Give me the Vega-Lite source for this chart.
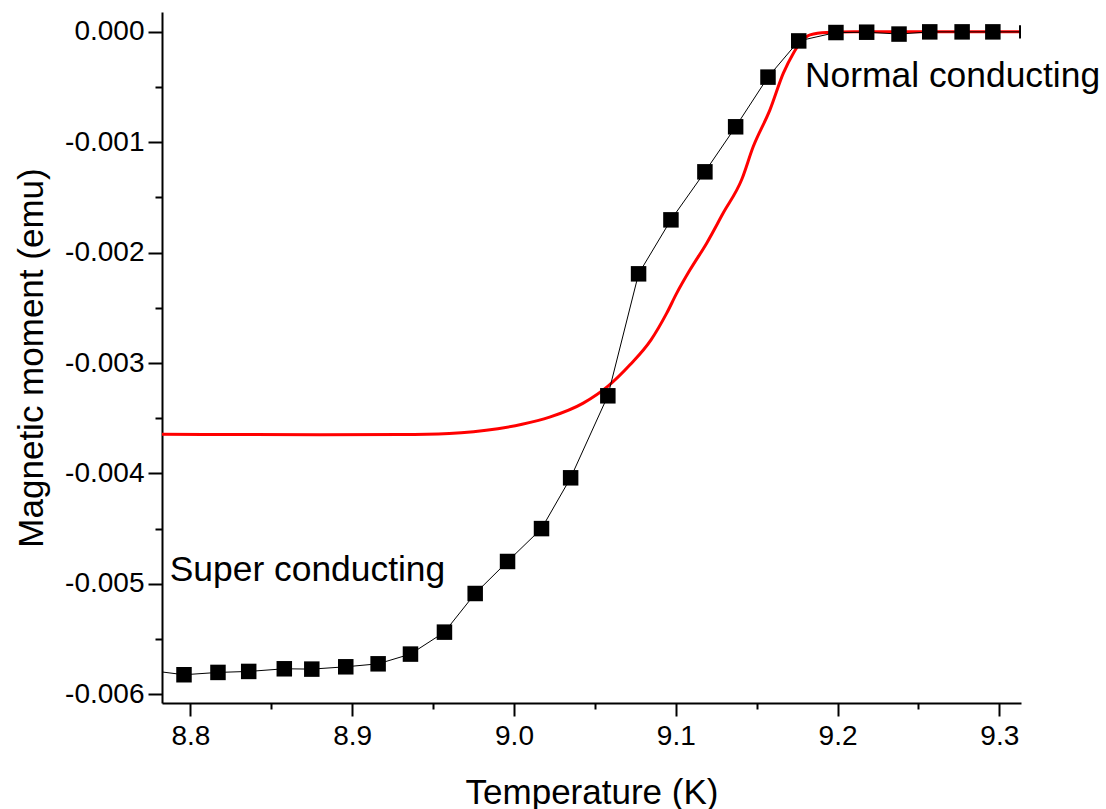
{
  "$schema": "https://vega.github.io/schema/vega-lite/v6.json",
  "width": 859,
  "height": 691,
  "autosize": {"type": "none"},
  "padding": {"left": 162, "top": 12, "right": 85, "bottom": 106},
  "background": "white",
  "config": {
    "view": {"stroke": null},
    "axis": {
      "domainColor": "#000000",
      "domainWidth": 2,
      "tickColor": "#000000",
      "tickWidth": 2,
      "labelColor": "#000000",
      "labelFont": "Liberation Sans",
      "labelFontSize": 28,
      "titleFont": "Liberation Sans",
      "titleFontSize": 35,
      "titleFontWeight": "normal",
      "titleColor": "#000000",
      "grid": false,
      "labelOverlap": false,
      "labelFlush": false
    }
  },
  "datasets": {
    "squares": [
      {"T": 8.796, "M": -0.005824}, {"T": 8.817, "M": -0.005803}, {"T": 8.836, "M": -0.005794},
      {"T": 8.858, "M": -0.00577}, {"T": 8.875, "M": -0.005773}, {"T": 8.896, "M": -0.005752},
      {"T": 8.916, "M": -0.005725}, {"T": 8.936, "M": -0.005637}, {"T": 8.957, "M": -0.005438},
      {"T": 8.976, "M": -0.005088}, {"T": 8.996, "M": -0.004798}, {"T": 9.017, "M": -0.0045},
      {"T": 9.035, "M": -0.00404}, {"T": 9.058, "M": -0.003297}, {"T": 9.077, "M": -0.002192},
      {"T": 9.097, "M": -0.001703}, {"T": 9.118, "M": -0.001268}, {"T": 9.137, "M": -0.00086},
      {"T": 9.157, "M": -0.00041}, {"T": 9.176, "M": -0.000082}, {"T": 9.199, "M": -0.000006},
      {"T": 9.218, "M": -0.000003}, {"T": 9.238, "M": -0.00002}, {"T": 9.257, "M": 0},
      {"T": 9.277, "M": 0}, {"T": 9.296, "M": 0}
    ],
    "blackline": [
      {"T": 8.783, "M": -0.0058},
      {"T": 8.796, "M": -0.005824}, {"T": 8.817, "M": -0.005803}, {"T": 8.836, "M": -0.005794},
      {"T": 8.858, "M": -0.00577}, {"T": 8.875, "M": -0.005773}, {"T": 8.896, "M": -0.005752},
      {"T": 8.916, "M": -0.005725}, {"T": 8.936, "M": -0.005637}, {"T": 8.957, "M": -0.005438},
      {"T": 8.976, "M": -0.005088}, {"T": 8.996, "M": -0.004798}, {"T": 9.017, "M": -0.0045},
      {"T": 9.035, "M": -0.00404}, {"T": 9.058, "M": -0.003297}, {"T": 9.077, "M": -0.002192},
      {"T": 9.097, "M": -0.001703}, {"T": 9.118, "M": -0.001268}, {"T": 9.137, "M": -0.00086},
      {"T": 9.157, "M": -0.00041}, {"T": 9.176, "M": -0.000082}, {"T": 9.199, "M": -0.000006},
      {"T": 9.218, "M": -0.000003}, {"T": 9.238, "M": -0.00002}, {"T": 9.257, "M": 0},
      {"T": 9.277, "M": 0}, {"T": 9.296, "M": 0}, {"T": 9.313, "M": 0}
    ],
    "red": [
      {"T": 8.7824, "M": -0.003645}, {"T": 8.83, "M": -0.003648}, {"T": 8.88, "M": -0.00365},
      {"T": 8.93, "M": -0.003648}, {"T": 8.96, "M": -0.003638}, {"T": 8.975, "M": -0.003622},
      {"T": 8.99, "M": -0.003595}, {"T": 9.005, "M": -0.003555}, {"T": 9.022, "M": -0.00349},
      {"T": 9.0428, "M": -0.003363}, {"T": 9.0583, "M": -0.003207}, {"T": 9.0717, "M": -0.003016},
      {"T": 9.0847, "M": -0.00279}, {"T": 9.0944, "M": -0.002548}, {"T": 9.1006, "M": -0.002367},
      {"T": 9.1088, "M": -0.002156}, {"T": 9.1191, "M": -0.001914}, {"T": 9.1294, "M": -0.001639},
      {"T": 9.1407, "M": -0.00134}, {"T": 9.1479, "M": -0.001039}, {"T": 9.1582, "M": -0.000707},
      {"T": 9.1665, "M": -0.000374}, {"T": 9.1727, "M": -0.000193}, {"T": 9.1768, "M": -0.000102},
      {"T": 9.183, "M": -0.000027}, {"T": 9.1933, "M": -0.000006}, {"T": 9.21, "M": 0},
      {"T": 9.26, "M": 0}, {"T": 9.3128, "M": 0}
    ],
    "endbar": [{"T": 9.3128, "M": 0.00006, "M2": -0.00006}],
    "labels": [
      {"T": 9.1799, "M": -0.000501, "text": "Normal conducting"},
      {"T": 8.7872, "M": -0.004979, "text": "Super conducting"}
    ]
  },
  "resolve": {"axis": {"x": "independent", "y": "independent"}},
  "layer": [
    {
      "data": {"name": "red"},
      "mark": {"type": "line", "color": "#ff0000", "strokeWidth": 3, "clip": true, "interpolate": "monotone"},
      "encoding": {
        "x": {
          "field": "T", "type": "quantitative",
          "scale": {"domain": [8.7824, 9.3134], "nice": false, "zero": false},
          "axis": {
            "orient": "bottom",
            "title": "Temperature (K)",
            "values": [8.8, 8.9, 9.0, 9.1, 9.2, 9.3],
            "format": ".1f",
            "tickSize": 13,
            "labelPadding": 6,
            "titlePadding": 25
          }
        },
        "y": {
          "field": "M", "type": "quantitative",
          "scale": {"domain": [-0.00608, 0.00018], "nice": false, "zero": false},
          "axis": {
            "orient": "left",
            "title": "Magnetic moment (emu)",
            "values": [-0.006, -0.005, -0.004, -0.003, -0.002, -0.001, 0],
            "labelExpr": "replace(format(datum.value, '.3f'), '\u2212', '-')",
            "tickSize": 14,
            "labelPadding": 4,
            "titlePadding": 15
          }
        }
      }
    },
    {
      "data": {"name": "blackline"},
      "mark": {"type": "line", "color": "#000000", "strokeWidth": 1, "clip": true},
      "encoding": {
        "x": {
          "field": "T", "type": "quantitative",
          "scale": {"domain": [8.7824, 9.3134], "nice": false, "zero": false},
          "axis": {
            "orient": "bottom",
            "title": null,
            "values": [8.85, 8.95, 9.05, 9.15, 9.25],
            "labels": false,
            "domain": false,
            "tickSize": 6
          }
        },
        "y": {
          "field": "M", "type": "quantitative",
          "scale": {"domain": [-0.00608, 0.00018], "nice": false, "zero": false},
          "axis": {
            "orient": "left",
            "title": null,
            "values": [-0.0055, -0.0045, -0.0035, -0.0025, -0.0015, -0.0005],
            "labels": false,
            "domain": false,
            "tickSize": 7
          }
        }
      }
    },
    {
      "data": {"name": "squares"},
      "mark": {"type": "square", "color": "#000000", "filled": true, "opacity": 1, "size": 240},
      "encoding": {
        "x": {"field": "T", "type": "quantitative", "scale": {"domain": [8.7824, 9.3134], "nice": false, "zero": false}, "axis": null},
        "y": {"field": "M", "type": "quantitative", "scale": {"domain": [-0.00608, 0.00018], "nice": false, "zero": false}, "axis": null}
      }
    },
    {
      "data": {"name": "endbar"},
      "mark": {"type": "rule", "color": "#000000", "strokeWidth": 2},
      "encoding": {
        "x": {"field": "T", "type": "quantitative", "scale": {"domain": [8.7824, 9.3134], "nice": false, "zero": false}, "axis": null},
        "y": {"field": "M", "type": "quantitative", "scale": {"domain": [-0.00608, 0.00018], "nice": false, "zero": false}, "axis": null},
        "y2": {"field": "M2"}
      }
    },
    {
      "data": {"name": "labels"},
      "mark": {"type": "text", "align": "left", "baseline": "alphabetic", "font": "Liberation Sans", "fontSize": 35.4, "color": "#000000"},
      "encoding": {
        "x": {"field": "T", "type": "quantitative", "scale": {"domain": [8.7824, 9.3134], "nice": false, "zero": false}, "axis": null},
        "y": {"field": "M", "type": "quantitative", "scale": {"domain": [-0.00608, 0.00018], "nice": false, "zero": false}, "axis": null},
        "text": {"field": "text"}
      }
    }
  ]
}
